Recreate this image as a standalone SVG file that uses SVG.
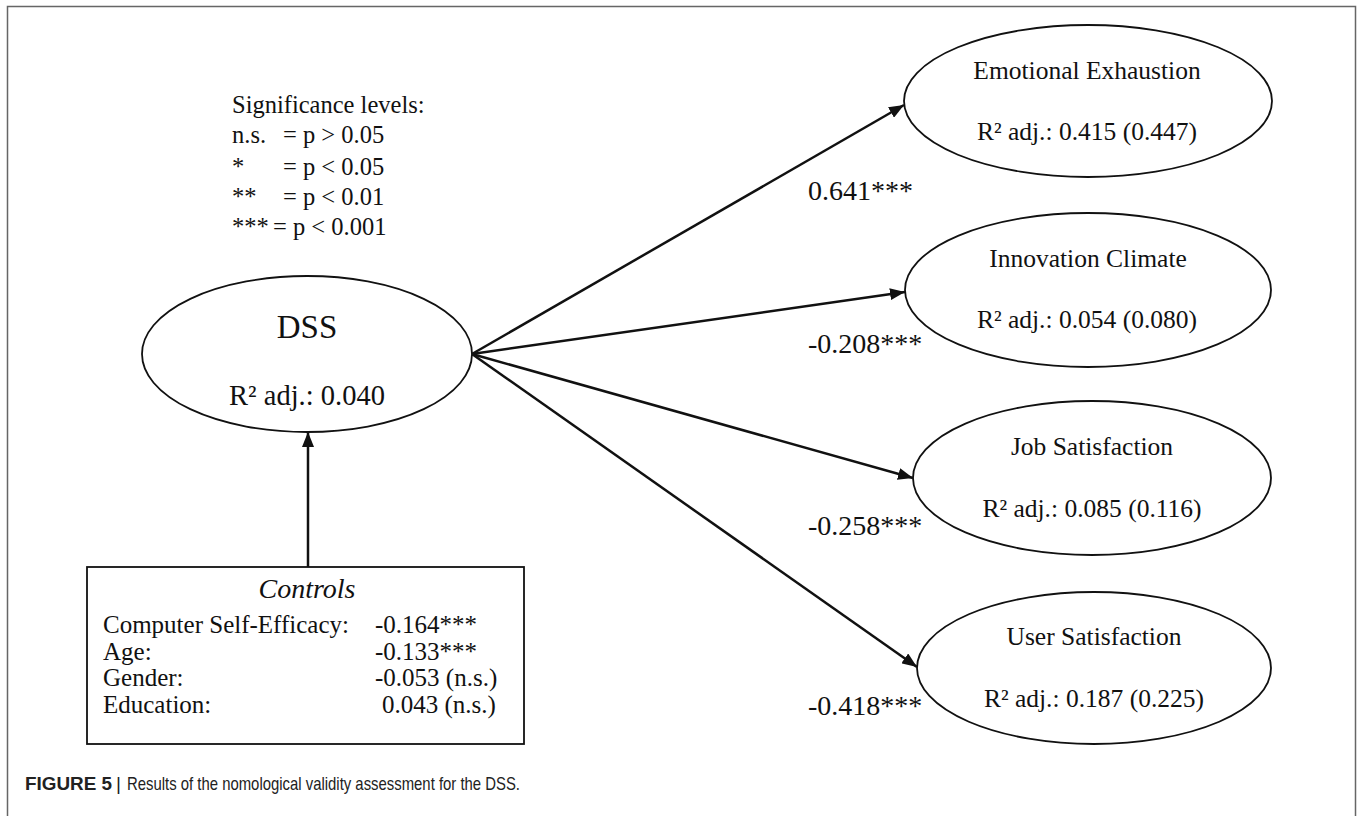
<svg xmlns="http://www.w3.org/2000/svg" width="1363" height="816" viewBox="0 0 1363 816">
<style>
.t{font-family:"Liberation Serif","Times New Roman",serif;fill:#111}
.node{fill:#fff;stroke:#111;stroke-width:1.8}
.conn{stroke:#111;stroke-width:2.5;fill:none}
.lbl{font-size:28px}
.r{font-size:25.5px}
.c{font-size:25px}
.cap{font-family:"Liberation Sans",Arial,sans-serif;font-size:19px;fill:#222}
</style>
<defs>
<marker id="ah" markerUnits="userSpaceOnUse" markerWidth="16" markerHeight="12" refX="15" refY="6" orient="auto">
<path d="M0,0 L15,6 L0,12 Z" fill="#111"/>
</marker>
</defs>
<rect x="7.5" y="6.5" width="1348" height="830" fill="#fff" stroke="#666" stroke-width="1.5"/>

<g id="legend" class="t" font-size="24.5">
<text x="232" y="113">Significance levels:</text>
<text x="232" y="143">n.s.</text><text x="283" y="143">= p &gt; 0.05</text>
<text x="232" y="175">*</text><text x="283" y="175">= p &lt; 0.05</text>
<text x="232" y="205">**</text><text x="283" y="205">= p &lt; 0.01</text>
<text x="232" y="235">***</text><text x="273" y="235">= p &lt; 0.001</text>
</g>

<g id="connectors">
<line class="conn" x1="472" y1="354" x2="904" y2="105" marker-end="url(#ah)"/>
<line class="conn" x1="472" y1="354" x2="905" y2="292" marker-end="url(#ah)"/>
<line class="conn" x1="472" y1="354" x2="913" y2="478" marker-end="url(#ah)"/>
<line class="conn" x1="472" y1="354" x2="917" y2="667" marker-end="url(#ah)"/>
<line class="conn" x1="308" y1="567" x2="308" y2="432" marker-end="url(#ah)"/>
<text class="t lbl" x="808" y="200">0.641***</text>
<text class="t lbl" x="808" y="353">-0.208***</text>
<text class="t lbl" x="808" y="535">-0.258***</text>
<text class="t lbl" x="808" y="715">-0.418***</text>
</g>

<g id="dss">
<ellipse class="node" cx="307" cy="354" rx="165" ry="78"/>
<text class="t" x="307" y="338" font-size="33" text-anchor="middle">DSS</text>
<text class="t" x="307" y="405" font-size="28.5" text-anchor="middle">R² adj.: 0.040</text>
</g>

<g id="emotional-exhaustion">
<ellipse class="node" cx="1088" cy="101" rx="184" ry="76"/>
<text class="t r" x="1087" y="79" text-anchor="middle">Emotional Exhaustion</text>
<text class="t r" x="1087" y="140" text-anchor="middle">R² adj.: 0.415 (0.447)</text>
</g>

<g id="innovation-climate">
<ellipse class="node" cx="1088" cy="290" rx="183" ry="77"/>
<text class="t r" x="1088" y="267" text-anchor="middle">Innovation Climate</text>
<text class="t r" x="1087" y="328" text-anchor="middle">R² adj.: 0.054 (0.080)</text>
</g>

<g id="job-satisfaction">
<ellipse class="node" cx="1092" cy="478" rx="179" ry="77"/>
<text class="t r" x="1092" y="455" text-anchor="middle">Job Satisfaction</text>
<text class="t r" x="1092" y="517" text-anchor="middle">R² adj.: 0.085 (0.116)</text>
</g>

<g id="user-satisfaction">
<ellipse class="node" cx="1094" cy="668" rx="177" ry="76"/>
<text class="t r" x="1094" y="645" text-anchor="middle">User Satisfaction</text>
<text class="t r" x="1094" y="707" text-anchor="middle">R² adj.: 0.187 (0.225)</text>
</g>

<g id="controls">
<rect x="87" y="567" width="437" height="177" fill="#fff" stroke="#111" stroke-width="1.8"/>
<text class="t" x="307" y="598" font-size="28" font-style="italic" text-anchor="middle">Controls</text>
<text class="t c" x="103" y="633">Computer Self-Efficacy:</text><text class="t c" x="375" y="633">-0.164***</text>
<text class="t c" x="103" y="660">Age:</text><text class="t c" x="375" y="660">-0.133***</text>
<text class="t c" x="103" y="686">Gender:</text><text class="t c" x="375" y="686">-0.053 (n.s.)</text>
<text class="t c" x="103" y="713">Education:</text><text class="t c" x="382" y="713">0.043 (n.s.)</text>
</g>

<g id="caption">
<text class="cap" x="25" y="790" font-weight="bold" textLength="87" lengthAdjust="spacingAndGlyphs">FIGURE 5</text>
<text class="cap" x="116" y="790">|</text>
<text class="cap" x="127" y="790" textLength="393" lengthAdjust="spacingAndGlyphs">Results of the nomological validity assessment for the DSS.</text>
</g>
</svg>
